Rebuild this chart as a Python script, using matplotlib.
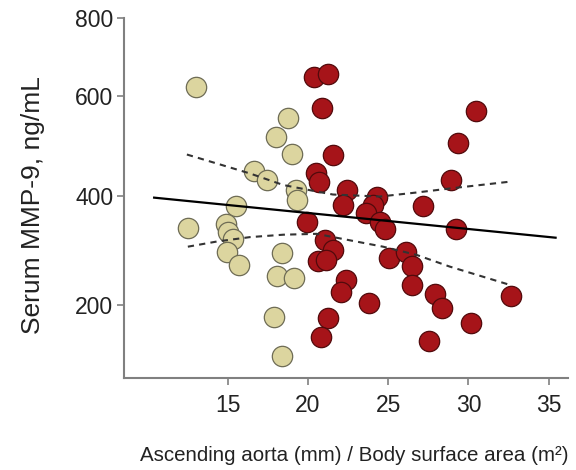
import numpy as np
import matplotlib
matplotlib.use('Agg')
import matplotlib.pyplot as plt

plt.rcParams['font.family'] = ['Liberation Sans', 'DejaVu Sans']

# group 1 (tan)
tan_x = [13.03, 18.73, 18.0, 19.02, 16.66, 17.43, 19.23, 19.29, 15.52, 12.51,
         14.9, 15.02, 15.35, 14.94, 15.72, 18.36, 18.05, 19.14, 17.88, 18.4]
tan_y = [624, 557, 519, 485, 451, 433, 412, 393, 382, 342,
         349, 334, 321, 298, 273, 296, 253, 250, 178, 105]

# group 2 (red)
red_x = [20.39, 21.26, 20.89, 21.53, 20.49, 20.68, 22.44, 22.19, 19.92, 21.05,
         21.57, 20.64, 21.12, 22.36, 22.03, 21.26, 20.81, 23.79, 30.49, 29.35,
         28.94, 24.27, 24.02, 23.61, 24.5, 24.79, 27.17, 29.25, 25.06, 26.1,
         26.45, 26.51, 27.9, 28.32, 32.67, 30.14, 27.55]
red_y = [650, 657, 577, 482, 447, 429, 413, 383, 353, 319,
         301, 281, 283, 246, 224, 176, 141, 203, 570, 507,
         432, 399, 383, 368, 352, 339, 382, 339, 287, 297,
         272, 237, 221, 195, 217, 167, 132]

# regression line and confidence band
fit_x = [10.41, 35.43]
fit_y = [397, 323.5]
band_up_x = [12.45, 14.32, 16.39, 18.46, 20.54, 21.55, 24.48, 26.76, 28.83, 32.67]
band_up_y = [483, 465, 445, 422, 409, 403, 399, 407, 415, 429]
band_lo_x = [12.51, 14.32, 16.39, 18.46, 20.54, 21.57, 24.68, 26.76, 28.83, 32.46]
band_lo_y = [307, 316.5, 324.6, 329, 330.6, 324.6, 307, 292, 270.5, 238]

x_ticks = [15, 20, 25, 30, 35]
y_ticks = [200, 400, 600, 800]

# the source axis is not evenly spaced; piecewise-linear y scale
Y_KNOTS = [-1000, 64, 200, 400, 600, 800, 2000]
Y_POS = [-581.3, 0, 72.7, 181.7, 281.7, 359.4, 825.6]


def fwd(v):
    return np.interp(v, Y_KNOTS, Y_POS)


def inv(p):
    return np.interp(p, Y_POS, Y_KNOTS)


fig = plt.figure(figsize=(5.76, 4.70), dpi=100)
ax = fig.add_axes([0.2158, 0.1964, 0.986 - 0.2158, 0.961 - 0.1964])
ax.set_yscale('function', functions=(fwd, inv))

ax.scatter(tan_x, tan_y, s=215, c='#dcd59f', edgecolors='#6e6c55',
           linewidths=0.9, zorder=3)
ax.scatter(red_x, red_y, s=215, c='#a61419', edgecolors='#520a0c',
           linewidths=0.9, zorder=3)

ax.plot(fit_x, fit_y, color='black', lw=1.6, zorder=4)
ax.plot(band_up_x, band_up_y, color='#333333', lw=1.5,
        linestyle=(0, (3, 2.5)), zorder=4)
ax.plot(band_lo_x, band_lo_y, color='#333333', lw=1.5,
        linestyle=(0, (3, 2.5)), zorder=4)

ax.set_xlim(8.55, 36.2)
ax.set_ylim(64, 800)
ax.set_xticks(x_ticks)
ax.set_yticks(y_ticks)
ax.minorticks_off()

for side in ['top', 'right']:
    ax.spines[side].set_visible(False)
for side in ['left', 'bottom']:
    ax.spines[side].set_color('#808080')
    ax.spines[side].set_linewidth(1.5)

ax.tick_params(axis='both', colors='#808080', labelcolor='#222222',
               length=5, width=1.2, labelsize=16.5)
ax.tick_params(axis='y', pad=3)
ax.tick_params(axis='x', pad=7)

fig.text(33 / 576, 1 - 204.6 / 470, 'Serum MMP-9, ng/mL', rotation=90,
         ha='center', va='center', fontsize=19, color='#222222')
fig.text(354 / 576, 1 - 455.7 / 470,
         'Ascending aorta (mm) / Body surface area (m\u00b2)',
         ha='center', va='center', fontsize=14.8, color='#222222')

fig.savefig('out.png', dpi=100)
